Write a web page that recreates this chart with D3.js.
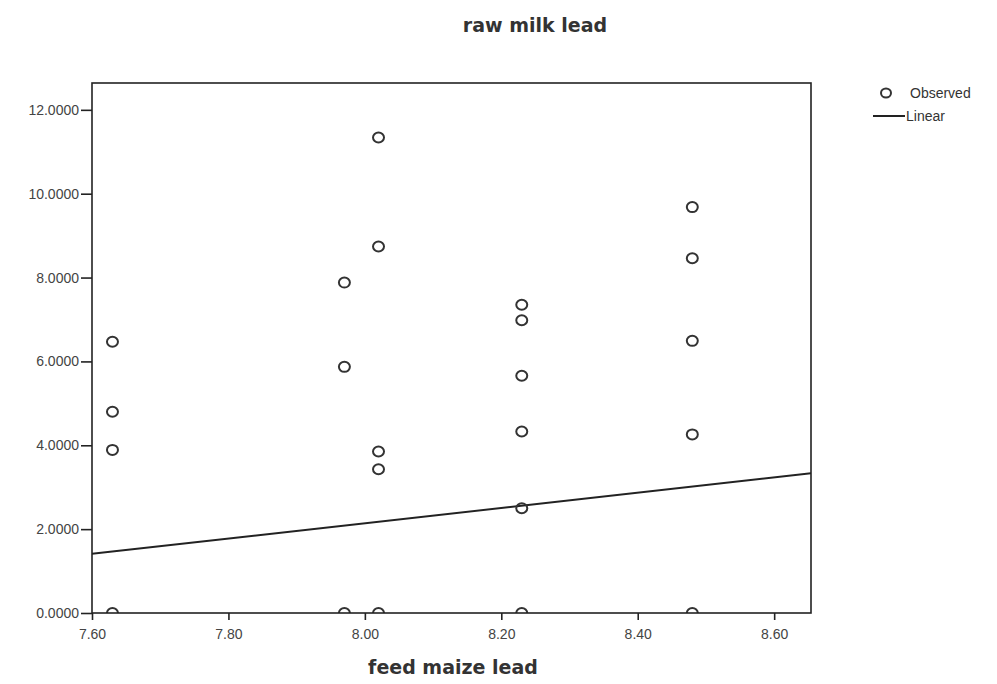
<!DOCTYPE html>
<html><head><meta charset="utf-8">
<script src="https://cdn.jsdelivr.net/npm/d3@7"></script>
<style>body{margin:0;background:#fff}</style>
</head><body>
<svg id="c" width="997" height="684"></svg>
<script>
const feedMaize = [7.63,7.63,7.63,7.63, 7.97,7.97,7.97, 8.02,8.02,8.02,8.02,8.02, 8.23,8.23,8.23,8.23,8.23,8.23, 8.48,8.48,8.48,8.48,8.48];
const rawMilk   = [6.47,4.80,3.89,0.00, 7.88,5.87,0.00, 11.34,8.74,3.85,3.43,0.00, 7.35,6.98,5.66,4.33,2.50,0.00, 9.68,8.46,6.49,4.26,0.00];
const linearCoef = {intercept:-12.42, slope:1.82};
const xTicks = [7.60,7.80,8.00,8.20,8.40,8.60];
const yTicks = [0,2,4,6,8,10,12];

const svg = d3.select("#c");
const L=92,R=811,T=83,B=613;
const x = d3.scaleLinear().domain([7.6,8.654]).range([L,R]);
const y = d3.scaleLinear().domain([0,12.64]).range([B,T]);
const ink="#222";

svg.append("defs").append("clipPath").attr("id","pc").append("rect")
  .attr("x",L).attr("y",T).attr("width",R-L).attr("height",B-T);

svg.append("text").attr("x",535).attr("y",32).attr("text-anchor","middle")
  .attr("font-family","DejaVu Sans").attr("font-weight","bold").attr("font-size",19)
  .attr("fill","#333").text("raw milk lead");

const g = svg.append("g").attr("clip-path","url(#pc)");
g.append("line").attr("x1",x(7.6)).attr("x2",x(8.654))
  .attr("y1",y(linearCoef.intercept+linearCoef.slope*7.6))
  .attr("y2",y(linearCoef.intercept+linearCoef.slope*8.654))
  .attr("stroke",ink).attr("stroke-width",2);
g.selectAll("ellipse").data(feedMaize).join("ellipse")
  .attr("cx",d=>x(d)).attr("cy",(d,i)=>y(rawMilk[i]))
  .attr("rx",5.5).attr("ry",5).attr("fill","none").attr("stroke","#333").attr("stroke-width",2);

svg.append("rect").attr("x",L).attr("y",T).attr("width",R-L).attr("height",B-T)
  .attr("fill","none").attr("stroke",ink).attr("stroke-width",1.6);

const xa = svg.append("g").attr("transform",`translate(0,${B})`)
  .call(d3.axisBottom(x).tickValues(xTicks).tickSize(7).tickPadding(9).tickFormat(d3.format(".2f")));
const ya = svg.append("g").attr("transform",`translate(${L},0)`)
  .call(d3.axisLeft(y).tickValues(yTicks).tickSize(11).tickPadding(2).tickFormat(d3.format(".4f")));
[xa,ya].forEach(a=>{
  a.select(".domain").remove();
  a.selectAll(".tick line").attr("stroke",ink).attr("stroke-width",1.6);
  a.selectAll(".tick text").attr("font-family","Liberation Sans").attr("font-size",14).attr("fill","#444");
});

svg.append("text").attr("x",453).attr("y",674).attr("text-anchor","middle")
  .attr("font-family","DejaVu Sans").attr("font-weight","bold").attr("font-size",19)
  .attr("fill","#333").text("feed maize lead");

const lg = svg.append("g");
lg.append("ellipse").attr("cx",886).attr("cy",93).attr("rx",5).attr("ry",4.5)
  .attr("fill","none").attr("stroke","#333").attr("stroke-width",2);
lg.append("text").attr("x",910).attr("y",98).attr("font-family","Liberation Sans")
  .attr("font-size",14).attr("fill","#333").text("Observed");
lg.append("line").attr("x1",873).attr("x2",905).attr("y1",116).attr("y2",116)
  .attr("stroke",ink).attr("stroke-width",2);
lg.append("text").attr("x",906).attr("y",121).attr("font-family","Liberation Sans")
  .attr("font-size",14).attr("fill","#333").text("Linear");
</script>
</body></html>
